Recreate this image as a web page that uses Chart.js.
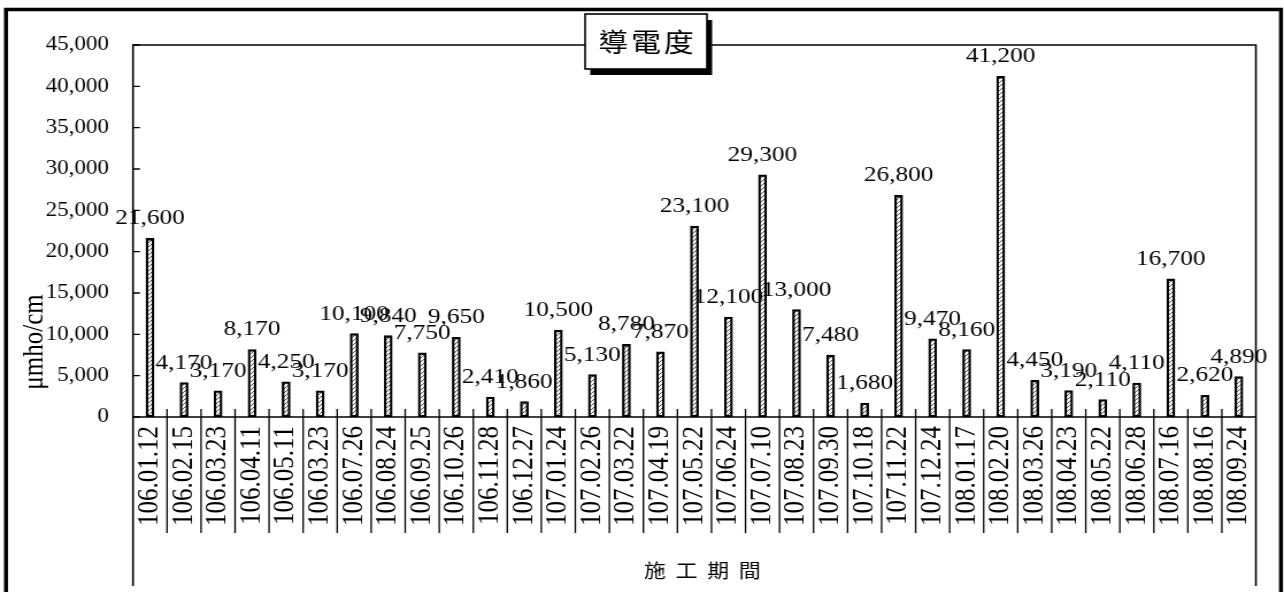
<!DOCTYPE html>
<html lang="zh-Hant">
<head>
<meta charset="UTF-8">
<title>導電度</title>
<style>
    html, body { margin: 0; padding: 0; background: #fff; overflow: hidden; }
    /* the reference is stretched sideways, so the whole chart is drawn narrow and scaled */
    #wrap { width: 1117px; height: 592px; transform: scaleX(1.1495); transform-origin: 0 0; }
</style>
</head>
<body>
<div id="wrap">
    <canvas id="mychart" width="1117" height="592"></canvas>
</div>
<script src="https://cdn.jsdelivr.net/npm/chart.js@4.4.1/dist/chart.umd.min.js"></script>
<script>
    /* 施工期間 */
    const dates = ['106.01.12', '106.02.15', '106.03.23', '106.04.11', '106.05.11', '106.03.23',
        '106.07.26', '106.08.24', '106.09.25', '106.10.26', '106.11.28', '106.12.27',
        '107.01.24', '107.02.26', '107.03.22', '107.04.19', '107.05.22', '107.06.24',
        '107.07.10', '107.08.23', '107.09.30', '107.10.18', '107.11.22', '107.12.24',
        '108.01.17', '108.02.20', '108.03.26', '108.04.23', '108.05.22', '108.06.28',
        '108.07.16', '108.08.16', '108.09.24'];

    /* 導電度 (μmho/cm) */
    const conductivity = [21600, 4170, 3170, 8170, 4250, 3170,
        10100, 9840, 7750, 9650, 2410, 1860,
        10500, 5130, 8780, 7870, 23100, 12100,
        29300, 13000, 7480, 1680, 26800, 9470,
        8160, 41200, 4450, 3190, 2110, 4110,
        16700, 2620, 4890];

    const yMin = 0, yMax = 45000, yStep = 5000;

    const chartTitle = '導電度';
    const xTitle = '施工期間';
    const yTitle = 'μmho/cm';

    const serif = "'Liberation Serif', 'Times New Roman', serif";
    const cjk = "'Noto Sans CJK TC', 'Noto Sans CJK SC', sans-serif";

    // 斜線花紋
    const pc = document.createElement('canvas');
    pc.width = 4; pc.height = 4;
    const pctx = pc.getContext('2d');
    pctx.fillStyle = '#fff';
    pctx.fillRect(0, 0, 4, 4);
    pctx.fillStyle = '#555';
    for (let i = 0; i < 4; i++) pctx.fillRect(i, 3 - i, 1, 1);

    const canvas = document.getElementById('mychart');
    const hatch = canvas.getContext('2d').createPattern(pc, 'repeat');

    const fmt = v => Number(v).toLocaleString('en-US');

    // frame, axis lines, ticks, dividers, titles
    const framePlugin = {
        id: 'frame',
        afterDraw(chart) {
            const ctx = chart.ctx;
            const a = chart.chartArea;
            const xs = chart.scales.x;
            const ys = chart.scales.y;
            ctx.save();
            ctx.strokeStyle = '#000';

            // outer border
            ctx.lineWidth = 3.5;
            ctx.beginPath();
            ctx.moveTo(5.2, 600);
            ctx.lineTo(5.2, 9.5);
            ctx.lineTo(1114.4, 9.5);
            ctx.lineTo(1114.4, 600);
            ctx.stroke();

            // plot box
            ctx.lineWidth = 1.6;
            ctx.beginPath();
            ctx.moveTo(a.left, 586);
            ctx.lineTo(a.left, a.top);
            ctx.lineTo(a.right, a.top);
            ctx.lineTo(a.right, 586);
            ctx.moveTo(a.left, a.bottom);
            ctx.lineTo(a.right, a.bottom);
            ctx.stroke();

            // y ticks, inside
            ctx.lineWidth = 1.3;
            ctx.beginPath();
            ys.ticks.forEach(t => {
                const y = ys.getPixelForValue(t.value);
                ctx.moveTo(a.left, y);
                ctx.lineTo(a.left + 6, y);
            });
            // category dividers
            for (let i = 1; i < dates.length; i++) {
                const x = (xs.getPixelForValue(i - 1) + xs.getPixelForValue(i)) / 2;
                ctx.moveTo(x, a.bottom - 8);
                ctx.lineTo(x, 533);
            }
            ctx.stroke();

            // y title
            ctx.fillStyle = '#000';
            ctx.save();
            ctx.translate(30, 342);
            ctx.rotate(-Math.PI / 2);
            ctx.font = '25px ' + serif;
            ctx.textAlign = 'center';
            ctx.textBaseline = 'middle';
            ctx.fillText(yTitle, 0, 0);
            ctx.restore();

            // x title
            ctx.font = '19px ' + cjk;
            ctx.textAlign = 'center';
            ctx.textBaseline = 'middle';
            const chars = [...xTitle];
            const gap = 27.5;
            chars.forEach((c, i) => {
                ctx.fillText(c, 611 + (i - (chars.length - 1) / 2) * gap, 571);
            });

            // title box with shadow
            const bx = 509, by = 14, bw = 106, bh = 55;
            ctx.fillRect(bx + 4.5, by + 6, bw, bh);
            ctx.fillStyle = '#fff';
            ctx.fillRect(bx, by, bw, bh);
            ctx.lineWidth = 1.6;
            ctx.strokeRect(bx, by, bw, bh);
            ctx.fillStyle = '#000';
            ctx.font = '26px ' + cjk;
            const tc = [...chartTitle];
            tc.forEach((c, i) => {
                ctx.fillText(c, bx + bw / 2 + (i - 1) * 28.5, by + bh / 2 + 1);
            });
            ctx.restore();
        }
    };

    // bar value labels
    const labelPlugin = {
        id: 'barLabels',
        afterDatasetsDraw(chart) {
            const ctx = chart.ctx;
            const meta = chart.getDatasetMeta(0);
            ctx.save();
            ctx.fillStyle = '#000';
            ctx.font = '22px ' + serif;
            ctx.textAlign = 'center';
            ctx.textBaseline = 'alphabetic';
            meta.data.forEach((bar, i) => {
                ctx.fillText(fmt(conductivity[i]), bar.x, bar.y - 14);
            });
            ctx.restore();
        }
    };

    new Chart(canvas, {
        type: 'bar',
        data: {
            labels: dates,
            datasets: [{
                label: chartTitle,
                data: conductivity,
                backgroundColor: hatch,
                borderColor: '#000',
                borderWidth: 2.3,
                borderSkipped: false,
                barThickness: 7
            }]
        },
        options: {
            responsive: false,
            animation: false,
            layout: { padding: { top: 45, right: 16, left: 0, bottom: 0 } },
            plugins: {
                legend: { display: false },
                tooltip: { enabled: false },
                title: { display: false }
            },
            scales: {
                x: {
                    grid: { display: false, drawTicks: false },
                    border: { display: false },
                    ticks: {
                        autoSkip: false,
                        minRotation: 90,
                        maxRotation: 90,
                        padding: 9,
                        color: '#000',
                        font: { family: serif, size: 25 }
                    },
                    afterFit: s => { s.height = 175; }
                },
                y: {
                    min: yMin,
                    max: yMax,
                    grid: { display: false, drawTicks: false },
                    border: { display: false },
                    ticks: {
                        stepSize: yStep,
                        padding: 21,
                        color: '#000',
                        font: { family: serif, size: 20 },
                        callback: v => fmt(v)
                    },
                    afterFit: s => { s.width = 115.7; }
                }
            }
        },
        plugins: [framePlugin, labelPlugin]
    });
</script>
</body>
</html>
